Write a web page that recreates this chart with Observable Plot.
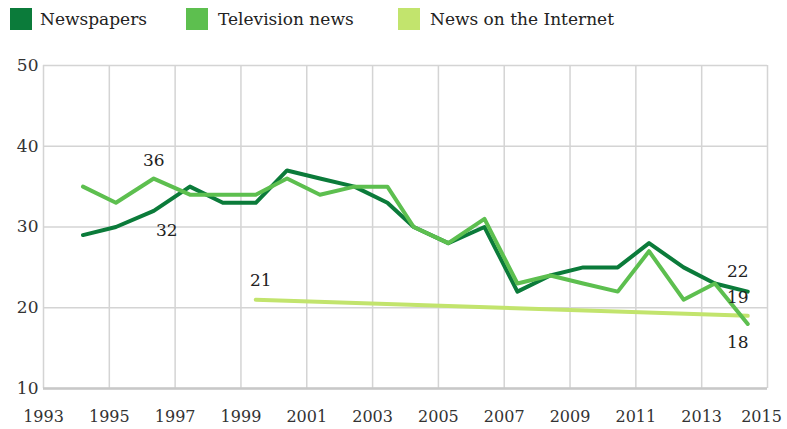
<!DOCTYPE html>
<html><head><meta charset="utf-8">
<script src="https://cdn.jsdelivr.net/npm/d3@7"></script>
<script src="https://cdn.jsdelivr.net/npm/@observablehq/plot@0.6"></script>
<style>
body{margin:0;background:#fff;font-family:"DejaVu Serif",serif;}
#legend{position:relative;height:40px;}
.sw{position:absolute;top:8px;width:22px;height:22px;}
.lb{position:absolute;top:8px;font-size:17px;color:#222;line-height:22px;white-space:nowrap;}
</style></head><body>
<div id="legend"></div>
<div id="chart"></div>
<script>
// survey times (fractional years)
const surveyTimes = [1994.2, 1995.2, 1996.35, 1997.45, 1998.45, 1999.45, 2000.4, 2001.4, 2002.45, 2003.45, 2004.25, 2005.3, 2006.4, 2007.4, 2008.4, 2009.4, 2010.45, 2011.4, 2012.45, 2013.4, 2014.4];
const newspapers = [29, 30, 32, 35, 33, 33, 37, 36, 35, 33, 30, 28, 30, 22, 24, 25, 25, 28, 25, 23, 22];
const television = [35, 33, 36, 34, 34, 34, 36, 34, 35, 35, 30, 28, 31, 23, 24, 23, 22, 27, 21, 23, 18];
const internetTimes = [1999.45, 2014.4];
const internet = [21, 19];
const seriesNames = ["Newspapers", "Television news", "News on the Internet"];
const seriesColors = ["#0b7b3a", "#5dbf4f", "#c2e46d"];
const xTicks = [1993, 1995, 1997, 1999, 2001, 2003, 2005, 2007, 2009, 2011, 2013, 2015];
const yTicks = [10, 20, 30, 40, 50];

// legend
const legend = document.getElementById("legend");
const swX = [10, 186, 398], lbX = [40, 218, 430];
seriesNames.forEach((n, i) => {
  const s = document.createElement("div");
  s.className = "sw"; s.style.left = swX[i] + "px"; s.style.background = seriesColors[i];
  legend.appendChild(s);
  const l = document.createElement("div");
  l.className = "lb"; l.style.left = lbX[i] + "px"; l.textContent = n;
  legend.appendChild(l);
});

const np = surveyTimes.map((t, i) => ({t, v: newspapers[i]}));
const tv = surveyTimes.map((t, i) => ({t, v: television[i]}));
const net = internetTimes.map((t, i) => ({t, v: internet[i]}));
const last = surveyTimes.length - 1;

const lbl = (d, dx, dy) => Plot.text([d], {x: "t", y: "v", text: d => String(d.v), dx, dy,
  fontSize: 17, fill: "#222", fontFamily: "DejaVu Serif"});

const chart = Plot.plot({
  width: 787, height: 389,
  marginLeft: 43, marginRight: 20, marginTop: 25, marginBottom: 41,
  style: {fontFamily: "DejaVu Serif", fontSize: "16px", color: "#333", background: "#fff", overflow: "visible"},
  x: {domain: [1993, 2015], tickFormat: d3.format("d"), label: null},
  y: {domain: [10, 50], label: null},
  marks: [
    Plot.gridX(xTicks, {stroke: "#d4d4d4", strokeOpacity: 1, strokeWidth: 1.5}),
    Plot.gridY(yTicks, {stroke: "#d4d4d4", strokeOpacity: 1, strokeWidth: 1.5}),
    Plot.ruleY([10], {stroke: "#c8c8c8", strokeWidth: 2.5}),
    Plot.axisX(xTicks.slice(0, -1), {tickFormat: d3.format("d"), tickSize: 0, tickPadding: 22, fontSize: 16}),
    Plot.axisX(xTicks.slice(-1), {tickFormat: d3.format("d"), tickSize: 0, tickPadding: 22, fontSize: 16, dx: -6}),
    Plot.axisY(yTicks, {tickSize: 0, tickPadding: 5, fontSize: 17}),
    Plot.line(net, {x: "t", y: "v", stroke: seriesColors[2], strokeWidth: 4}),
    Plot.line(np, {x: "t", y: "v", stroke: seriesColors[0], strokeWidth: 4}),
    Plot.line(tv, {x: "t", y: "v", stroke: seriesColors[1], strokeWidth: 4}),
    lbl(tv[2], 0, -18),
    lbl(np[2], 13, 20),
    lbl(net[0], 5, -19),
    lbl(np[last], -10, -20),
    lbl(net[1], -10, -18),
    lbl(tv[last], -10, 19)
  ]
});
document.getElementById("chart").appendChild(chart);
</script>
</body></html>
